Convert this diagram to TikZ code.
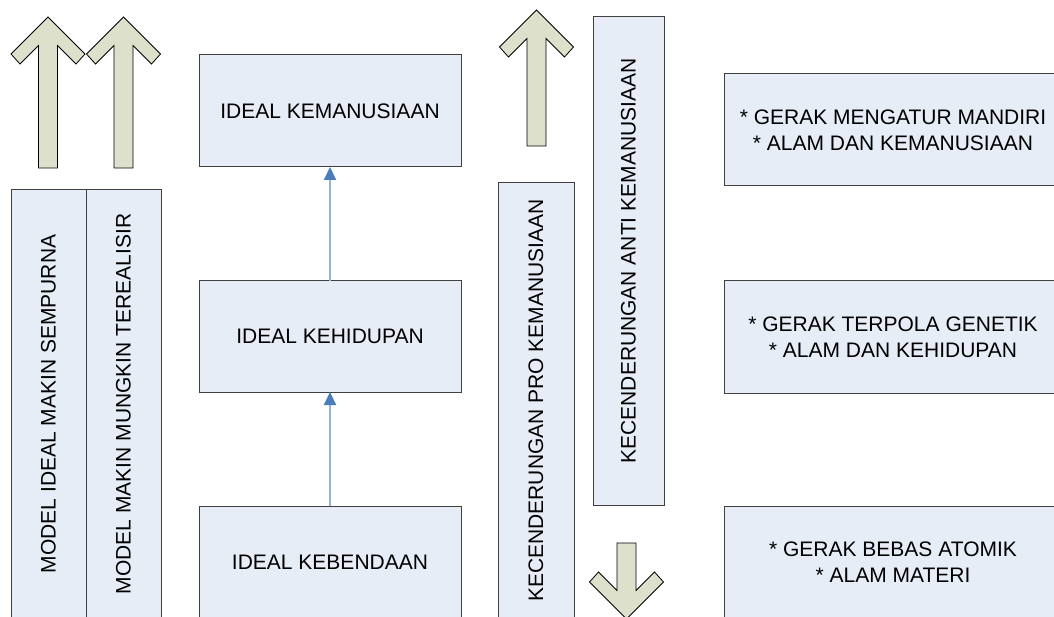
\documentclass[tikz,border=0pt]{standalone}
\usepackage{fontspec}
\setmainfont{Liberation Sans}
\usetikzlibrary{arrows.meta}
\definecolor{boxfill}{RGB}{231,237,247}
\definecolor{boxline}{RGB}{64,64,64}
\definecolor{arrfill}{RGB}{221,225,204}
\definecolor{connline}{RGB}{149,179,215}
\definecolor{conntip}{RGB}{74,126,187}
\tikzset{
  x=1pt, y=-1pt,
  box/.style={draw=boxline, fill=boxfill, line width=1pt, inner sep=0pt, outer sep=0pt,
    font=\fontsize{21}{26}\selectfont, align=center},
  vbox/.style={box, rotate=90},
  bigarrow/.style={draw=black, fill=arrfill, line width=0.8pt, line join=miter},
  conn/.style={draw=connline, line width=2pt, -{Triangle[width=12pt,length=13pt,color=conntip]}}
}
\begin{document}
\begin{tikzpicture}
\clip (0,0) rectangle (1054,617);
\fill[white] (0,0) rectangle (1054,617);
% big arrows
\draw[bigarrow, shift={(48,17)}] (0,0) -- (37,37) -- (28,47) -- (9.5,28.5) -- (9.5,151) -- (-9.5,151) -- (-9.5,28.5) -- (-28,47) -- (-37,37) -- cycle;
\draw[bigarrow, shift={(123.5,17)}] (0,0) -- (37,37) -- (28,47) -- (9.5,28.5) -- (9.5,151) -- (-9.5,151) -- (-9.5,28.5) -- (-28,47) -- (-37,37) -- cycle;
\draw[bigarrow, shift={(536.5,10)}] (0,0) -- (37,37) -- (28,47) -- (9.5,28.5) -- (9.5,136) -- (-9.5,136) -- (-9.5,28.5) -- (-28,47) -- (-37,37) -- cycle;
\draw[bigarrow, shift={(626.5,619)}] (0,0) -- (37,-37) -- (28,-47) -- (9.5,-28.5) -- (9.5,-76) -- (-9.5,-76) -- (-9.5,-28.5) -- (-28,-47) -- (-37,-37) -- cycle;
% left vertical boxes
\node[vbox, minimum width=428pt, minimum height=75pt] (sempurna) at (48.5,404) {MODEL IDEAL MAKIN SEMPURNA};
\node[vbox, minimum width=428pt, minimum height=75pt] (terealisir) at (123.5,404) {MODEL MAKIN MUNGKIN TEREALISIR};
% middle boxes
\node[box, minimum width=262pt, minimum height=112pt] (kemanusiaan) at (330,111) {IDEAL KEMANUSIAAN};
\node[box, minimum width=262pt, minimum height=111pt] (kehidupan) at (330,336.5) {IDEAL KEHIDUPAN};
\node[box, minimum width=262pt, minimum height=112pt] (kebendaan) at (330,562) {IDEAL KEBENDAAN};
\draw[conn] (kebendaan.north) -- (kehidupan.south);
\draw[conn] (kehidupan.north) -- (kemanusiaan.south);
% tendency boxes
\node[vbox, minimum width=435pt, minimum height=76pt] (pro) at (536,400.5) {KECENDERUNGAN PRO KEMANUSIAAN};
\node[vbox, minimum width=488pt, minimum height=71pt] (anti) at (628.5,261) {KECENDERUNGAN ANTI KEMANUSIAAN};
% right boxes
\node[box, minimum width=338pt, minimum height=112pt] (mandiri) at (893,130) {* GERAK MENGATUR MANDIRI\\* ALAM DAN KEMANUSIAAN};
\node[box, minimum width=338pt, minimum height=112pt] (genetik) at (893,337) {* GERAK TERPOLA GENETIK\\* ALAM DAN KEHIDUPAN};
\node[box, minimum width=338pt, minimum height=112pt] (atomik) at (893,562) {* GERAK BEBAS ATOMIK\\* ALAM MATERI};
\end{tikzpicture}
\end{document}
